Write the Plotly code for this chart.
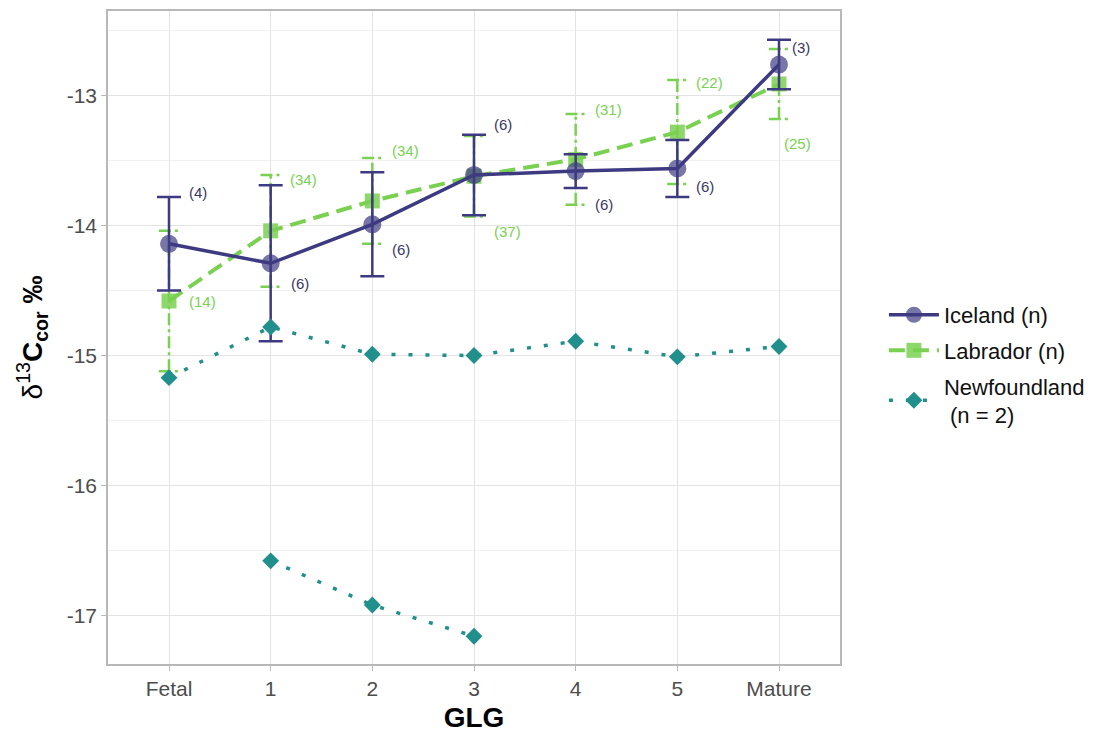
import plotly.graph_objects as go

# Growth-layer groups (GLG) along the tooth
glg_labels = ["Fetal", "1", "2", "3", "4", "5", "Mature"]
glg_pos = list(range(len(glg_labels)))

# Iceland: mean δ13C (corrected), SD and sample size per GLG
iceland_mean = [-14.14, -14.29, -13.99, -13.61, -13.58, -13.56, -12.76]
iceland_sd = [0.36, 0.60, 0.40, 0.31, 0.13, 0.22, 0.19]
iceland_n = [4, 6, 6, 6, 6, 6, 3]

# Labrador: mean, SD and sample size per GLG
labrador_mean = [-14.58, -14.04, -13.81, -13.62, -13.49, -13.28, -12.91]
labrador_sd = [0.54, 0.43, 0.33, 0.31, 0.35, 0.40, 0.27]
labrador_n = [14, 34, 34, 37, 31, 22, 25]

# Newfoundland: two individuals
nf_a = [-15.17, -14.78, -14.99, -15.00, -14.89, -15.01, -14.93]
nf_b_pos = [1, 2, 3]
nf_b = [-16.58, -16.92, -17.16]

ICE = "#3E3A82"
LAB = "#7AD151"
NF = "#21908C"

fig = go.Figure()

# Labrador error bars (dash-dot), drawn from mean ± SD
ex, ey = [], []
cap = 0.1
for x, m, s in zip(glg_pos, labrador_mean, labrador_sd):
    lo, hi = m - s, m + s
    ex += [x, x, None, x - cap, x + cap, None, x - cap, x + cap, None]
    ey += [lo, hi, None, hi, hi, None, lo, lo, None]
fig.add_trace(go.Scatter(
    x=ex, y=ey, mode="lines", showlegend=False, hoverinfo="skip",
    line=dict(color=LAB, width=2.5, dash="12px,4px,3px,4px"),
))

fig.add_trace(go.Scatter(
    x=glg_pos, y=labrador_mean, mode="lines+markers", name="Labrador (n)",
    legendgroup="lab", legendrank=2,
    line=dict(color=LAB, width=4, dash="16px,8px"),
    marker=dict(symbol="square", size=15, color=LAB, opacity=0.85),
))

fig.add_trace(go.Scatter(
    x=glg_pos, y=iceland_mean, mode="lines+markers", name="Iceland (n)",
    legendgroup="ice", legendrank=1,
    line=dict(color=ICE, width=3.5),
    marker=dict(symbol="circle", size=18, color="rgba(62,58,130,0.7)"),
    error_y=dict(type="data", array=iceland_sd, visible=True,
                 color=ICE, thickness=2.5, width=12),
))

fig.add_trace(go.Scatter(
    x=glg_pos, y=nf_a, mode="lines+markers", name="Newfoundland<br> (n = 2)",
    legendgroup="nf", legendrank=3,
    line=dict(color=NF, width=3.5, dash="4px,13px"),
    marker=dict(symbol="diamond", size=13, color=NF),
))
fig.add_trace(go.Scatter(
    x=nf_b_pos, y=nf_b, mode="lines+markers", showlegend=False,
    legendgroup="nf",
    line=dict(color=NF, width=3.5, dash="4px,13px"),
    marker=dict(symbol="diamond", size=13, color=NF),
))

# Sample-size labels beside each mean (pixel nudges)
ice_shift = [(29, -51), (29, 20), (29, 25), (29, -50), (28, 33), (28, 18), (22, -17)]
lab_shift = [(33, 1), (33, -51), (33, -50), (33, 55), (33, -50), (32, -50), (18, 59)]
annotations = []
for x, m, n, (dx, dy) in zip(glg_pos, iceland_mean, iceland_n, ice_shift):
    annotations.append(dict(x=x, y=m, text=f"({n})", showarrow=False,
                            xshift=dx, yshift=-dy,
                            font=dict(size=15, color="#3a3760")))
for x, m, n, (dx, dy) in zip(glg_pos, labrador_mean, labrador_n, lab_shift):
    annotations.append(dict(x=x, y=m, text=f"({n})", showarrow=False,
                            xshift=dx, yshift=-dy,
                            font=dict(size=15, color=LAB)))

fig.update_layout(
    width=1103, height=737,
    margin=dict(l=108, r=263, t=9, b=73),
    paper_bgcolor="white", plot_bgcolor="white",
    font=dict(family="Liberation Sans, Arial, sans-serif", color="#4d4d4d"),
    annotations=annotations,
    showlegend=True,
    legend=dict(x=1.06, xanchor="left", y=0.458, yanchor="middle",
                font=dict(size=22, color="#111111"), itemwidth=50,
                tracegroupgap=4, bgcolor="rgba(0,0,0,0)"),
)

fig.update_xaxes(
    range=[-0.6, 6.6], tickmode="array", tickvals=glg_pos, ticktext=glg_labels,
    showgrid=True, gridcolor="#e3e3e3", gridwidth=1.3,
    showline=True, linecolor="#b8b8b8", linewidth=1.5, mirror=True,
    ticks="outside", ticklen=5, tickcolor="#b8b8b8",
    tickfont=dict(size=21, color="#4d4d4d"), zeroline=False,
    title=dict(text="<b>GLG</b>", font=dict(size=28, color="#000000"), standoff=8),
)
fig.update_yaxes(
    range=[-17.374, -12.348], tickmode="array",
    tickvals=[-13, -14, -15, -16, -17], ticktext=["-13", "-14", "-15", "-16", "-17"],
    showgrid=True, gridcolor="#e3e3e3", gridwidth=1.3,
    minor=dict(tickvals=[-12.5, -13.5, -14.5, -15.5, -16.5], showgrid=True,
               gridcolor="#f1f1f1", gridwidth=1),
    showline=True, linecolor="#b8b8b8", linewidth=1.5, mirror=True,
    ticks="outside", ticklen=5, tickcolor="#b8b8b8",
    tickfont=dict(size=21, color="#4d4d4d"), zeroline=False,
    title=dict(text="δ<sup>13</sup><b>C<sub>cor</sub> ‰</b>",
               font=dict(size=28, color="#000000"), standoff=16),
)

fig.write_html("out.html")
